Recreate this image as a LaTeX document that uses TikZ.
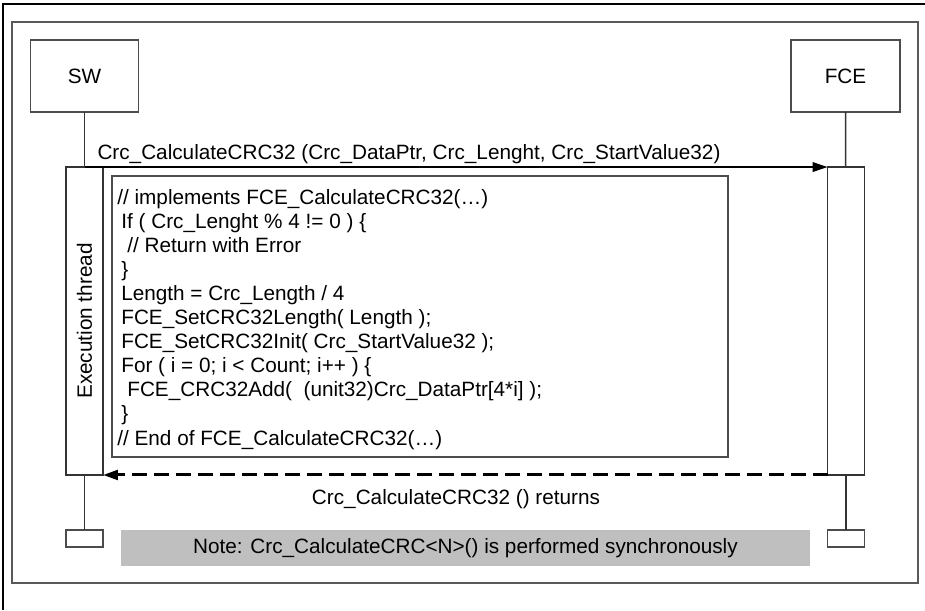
\documentclass[tikz,border=0pt]{standalone}
\usepackage{fontspec}
\setmainfont{Liberation Sans}
\usetikzlibrary{arrows.meta}

\tikzset{
    txt/.style={font=\fontsize{11.8}{13}\selectfont, inner sep=0pt},
    box/.style={draw=black!70, line width=0.8pt, inner sep=0pt, outer sep=0pt},
    actor/.style={box, minimum height=1.44cm, txt},
    bar/.style={box, draw=black!80, minimum width=0.74cm, minimum height=6.16cm},
    endbox/.style={box, minimum width=0.74cm, minimum height=0.34cm},
    life/.style={draw=black!80, line width=0.8pt},
    call/.style={line width=0.85pt, -{Triangle[length=8.5pt, width=5.5pt]}},
    ret/.style={line width=1.7pt, dash pattern=on 8.5pt off 4pt,
        -{Triangle[length=8.5pt, width=5.5pt]}},
}

\begin{document}
\begin{tikzpicture}[x=0.02cm, y=-0.02cm]
    \useasboundingbox (0,0) rectangle (925,610);

    % frames
    \draw[line width=0.75pt] (3,610) -- (3,4) -- (925,4);
    \draw[draw=black!65, line width=0.9pt] (12,22) rectangle (918,583);

    % actors
    \node[actor, minimum width=2.16cm] (sw) at (84.5,76) {SW};
    \node[actor, minimum width=2.18cm] (fce) at (845.5,76) {FCE};

    \node[bar] (swbar) at (84.5,321) {};
    \node[bar] (fcebar) at (846,321) {};
    \node[endbox] (swend) at (84.5,538.5) {};
    \node[endbox] (fceend) at (846,538.5) {};

    \draw[life] (sw) -- (swbar);
    \draw[life] (swbar) -- (swend);
    \draw[life] (fce) -- (fcebar);
    \draw[life] (fcebar) -- (fceend);

    \node[txt, rotate=90] (exec) at (swbar.center) {Execution thread};

    % code block
    \node[box, minimum width=12.32cm, minimum height=5.62cm] (code) at (420,316.5) {};

    \node[txt, anchor=base west] (c1) at (117,204) {// implements FCE\_CalculateCRC32(…)};
    \node[txt, anchor=base west] (c2) at (121,228.1) {If ( Crc\_Lenght \% 4 != 0 ) \{};
    \node[txt, anchor=base west] (c3) at (127,252.2) {// Return with Error};
    \node[txt, anchor=base west] (c4) at (121,276.3) {\}};
    \node[txt, anchor=base west] (c5) at (121,300.4) {Length = Crc\_Length / 4};
    \node[txt, anchor=base west] (c6) at (121,324.5) {FCE\_SetCRC32Length( Length );};
    \node[txt, anchor=base west] (c7) at (121,348.6) {FCE\_SetCRC32Init( Crc\_StartValue32 );};
    \node[txt, anchor=base west] (c8) at (121,372.7) {For ( i = 0; i < Count; i++ ) \{};
    \node[txt, anchor=base west] (c9) at (127,396.8) {FCE\_CRC32Add(\ \ (unit32)Crc\_DataPtr[4*i] );};
    \node[txt, anchor=base west] (c10) at (121,420.9) {\}};
    \node[txt, anchor=base west] (c11) at (117,445) {// End of FCE\_CalculateCRC32(…)};

    % messages
    \draw[call] (swbar.north) -- (fcebar.north west);
    \node[txt, anchor=base] (calllbl) at (409,159)
        {Crc\_CalculateCRC32 (Crc\_DataPtr, Crc\_Lenght, Crc\_StartValue32)};

    \draw[ret] (fcebar.south west) -- (swbar.south east);
    \node[txt, anchor=base] (retlbl) at (456,504) {Crc\_CalculateCRC32 () returns};

    % note
    \node[fill=black!25, minimum width=13.78cm, minimum height=0.72cm, inner sep=0pt, txt]
        (note) at (465.5,548) {Note: Crc\_CalculateCRC<N>() is performed synchronously};
\end{tikzpicture}
\end{document}
